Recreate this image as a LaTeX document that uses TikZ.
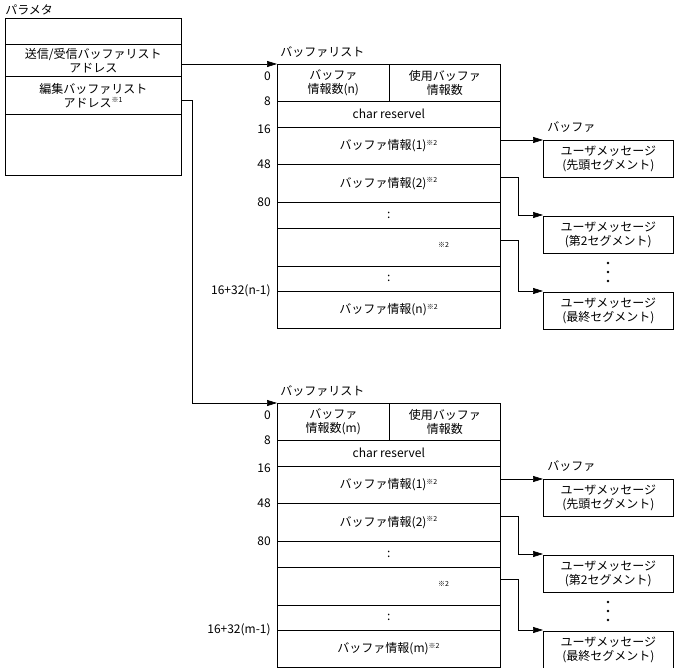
\documentclass[tikz,border=0pt]{standalone}
\usepackage{fontspec}
\setmainfont{Noto Sans CJK JP}
\usetikzlibrary{arrows.meta}
\tikzset{
  cell/.style={draw,anchor=north west,inner sep=0pt,align=center,font=\fontsize{12}{14}\selectfont},
  lbl/.style={anchor=east,inner sep=1pt,font=\fontsize{12}{14}\selectfont},
  ttl/.style={anchor=west,inner sep=0pt,font=\fontsize{12}{14}\selectfont},
  arr/.style={-{Triangle[length=10pt,width=6pt]},line width=0.6pt},
  seg/.style={draw,anchor=north west,minimum width=130pt,minimum height=37pt,inner sep=0pt,align=center,font=\fontsize{12}{14}\selectfont},
  dot/.style={circle,fill,inner sep=0pt,minimum size=2.6pt},
}
\newcommand\sx[1]{\textsuperscript{\fontsize{7}{8}\selectfont ※#1}}
\newcommand\buflist[3]{%
  \begin{scope}[yshift=-#2pt]
  \node[ttl] (#1t) at (280,52) {バッファリスト};
  \node[cell,minimum width=112pt,minimum height=37pt] (#1a) at (277,64) {バッファ\\情報数(#3)};
  \node[cell,minimum width=111pt,minimum height=37pt] (#1b) at (389,64) {使用バッファ\\情報数};
  \node[cell,minimum width=223pt,minimum height=26pt] (#1c) at (277,101) {char reservel};
  \node[cell,minimum width=223pt,minimum height=37pt] (#1d) at (277,127) {バッファ情報(1)\sx2};
  \node[cell,minimum width=223pt,minimum height=38pt] (#1e) at (277,164) {バッファ情報(2)\sx2};
  \node[cell,minimum width=223pt,minimum height=26pt] (#1f) at (277,202) {:};
  \node[cell,minimum width=223pt,minimum height=38pt] (#1g) at (277,228) {\hspace*{110pt}\sx2};
  \node[cell,minimum width=223pt,minimum height=25pt] (#1h) at (277,266) {:};
  \node[cell,minimum width=223pt,minimum height=37pt] (#1i) at (277,291) {バッファ情報(#3)\sx2};
  \node[lbl] (#1l0) at (272,76) {0};
  \node[lbl] (#1l8) at (272,101) {8};
  \node[lbl] (#1l16) at (272,129) {16};
  \node[lbl] (#1l48) at (272,164) {48};
  \node[lbl] (#1l80) at (272,202) {80};
  \node[lbl] (#1ln) at (272,291) {16+32(#3-1)};
  \node[ttl] (#1bt) at (547,127) {バッファ};
  \node[seg] (#1s1) at (543,140) {ユーザメッセージ\\(先頭セグメント)};
  \node[seg] (#1s2) at (543,216) {ユーザメッセージ\\(第2セグメント)};
  \node[seg] (#1s3) at (543,292) {ユーザメッセージ\\(最終セグメント)};
  \node[dot] (#1d1) at (608,263) {};
  \node[dot] (#1d2) at (608,272) {};
  \node[dot] (#1d3) at (608,281) {};
  \coordinate (#1k2) at (518,177);
  \coordinate (#1k3) at (518,240);
  \draw[arr] (#1d.east |- 0,140) -- (#1s1.west |- 0,140);
  \draw[arr] (#1e.east |- 0,177) -- (#1k2) |- (#1s2.west |- 0,215);
  \draw[arr] (#1g.east |- 0,240) -- (#1k3) |- (#1s3.west |- 0,291);
  \end{scope}}
\begin{document}
\begin{tikzpicture}[x=1pt,y=-1pt,line width=0.6pt]
\useasboundingbox (0,0) rectangle (675,668);
\node[ttl] (pt) at (5,10) {パラメタ};
\node[cell,minimum width=176pt,minimum height=26pt] (p1) at (5,18) {};
\node[cell,minimum width=176pt,minimum height=32pt] (p2) at (5,44) {送信/受信バッファリスト\\アドレス};
\node[cell,minimum width=176pt,minimum height=38pt] (p3) at (5,76) {編集バッファリスト\\アドレス\sx1};
\node[cell,minimum width=176pt,minimum height=61pt] (p4) at (5,114) {};
\buflist{A}{0}{n}
\buflist{B}{339}{m}
\coordinate (k1) at (192,100);
\draw[arr] (p2.east |- 0,64) -- (Aa.west |- 0,64);
\draw[arr] (p3.east |- 0,100) -- (k1) |- (Ba.west |- 0,403);
\end{tikzpicture}
\end{document}
